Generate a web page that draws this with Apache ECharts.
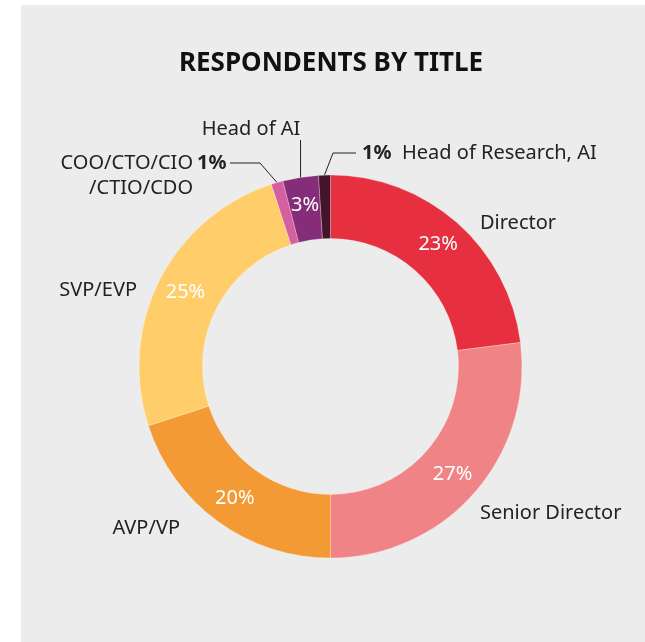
<!DOCTYPE html>
<html>
<head>
<meta charset="utf-8">
<script src="https://cdn.jsdelivr.net/npm/echarts@6/dist/echarts.min.js"></script>
<style>
  html, body { margin: 0; padding: 0; background: #ffffff; }
  #chart { width: 645px; height: 642px; }
</style>
</head>
<body>
<div id="chart"></div>
<script>
// Respondents by title (share of respondents, %)
const categories = ['Director', 'Senior Director', 'AVP/VP', 'SVP/EVP',
  'COO/CTO/CIO\n/CTIO/CDO', 'Head of AI', 'Head of Research, AI'];
const shares = [23, 27, 20, 25, 1, 3, 1];
const sliceColors = ['#E6303F', '#F08385', '#F39A35', '#FFCE6B', '#D460A0', '#862D79', '#44142B'];
const titleText = 'RESPONDENTS BY TITLE';

// slices whose percentage sits outside the ring with a leader line
const outsidePct = [4, 6];

const CX = 330.5, CY = 366.5, R_IN = 128, R_OUT = 191.5;
const FONT = '"Noto Sans", "Open Sans", sans-serif';
const INK = '#222222';

// mid-angle point on the outer rim of slice i
const total = shares.reduce((a, b) => a + b, 0);
function rimPoint(i) {
  let cum = 0;
  for (let k = 0; k < i; k++) cum += shares[k];
  const a = (90 - 360 * (cum + shares[i] / 2) / total) * Math.PI / 180;
  return [CX + R_OUT * Math.cos(a), CY - R_OUT * Math.sin(a)];
}

// placement of the category names around the ring
const namePos = [
  { x: 480, y: 223, align: 'left' },
  { x: 480, y: 513, align: 'left' },
  { x: 180, y: 528, align: 'right' },
  { x: 137, y: 290, align: 'right' },
  { x: 193, y: 175.5, align: 'right' },
  { x: 251, y: 129, align: 'center' },
  { x: 402, y: 153, align: 'left' }
];
// placement of the small percentages that sit outside
const pctPos = {
  4: { x: 197, y: 163, line: [[230, 163], [260, 163]] },
  6: { x: 362, y: 153, line: [[356, 153], [333, 153]] }
};

const pctData = shares.map((v, i) => {
  const outside = outsidePct.includes(i);
  return {
    value: v,
    name: categories[i],
    itemStyle: { color: sliceColors[i] },
    label: outside
      ? { position: 'outside', color: INK, fontWeight: 'bold' }
      : { position: 'inside', color: '#ffffff' },
    labelLine: { show: outside }
  };
});

const nameData = shares.map((v, i) => ({
  value: v,
  name: categories[i],
  labelLine: { show: i === 5 }
}));

const chart = echarts.init(document.getElementById('chart'), null, { renderer: 'canvas' });
chart.setOption({
  backgroundColor: '#ffffff',
  animation: false,
  title: {
    text: titleText,
    left: 174,
    top: 46,
    textStyle: { fontFamily: FONT, fontSize: 26, fontWeight: 'bold', color: '#111111' }
  },
  graphic: [{
    type: 'rect',
    z: -10,
    silent: true,
    shape: { x: 21, y: 5, width: 624, height: 637 },
    style: { fill: '#ECECEC' }
  }],
  series: [
    {
      type: 'pie',
      name: 'share',
      center: [CX, CY],
      radius: [R_IN, R_OUT],
      startAngle: 90,
      clockwise: true,
      avoidLabelOverlap: false,
      silent: true,
      itemStyle: { borderColor: 'rgba(255,255,255,0.45)', borderWidth: 0.6 },
      label: {
        show: true,
        formatter: '{c}%',
        fontFamily: FONT,
        fontSize: 20
      },
      labelLine: { lineStyle: { color: INK, width: 1 } },
      labelLayout: function (p) {
        const pos = pctPos[p.dataIndex];
        if (!pos) return {};
        return {
          x: pos.x, y: pos.y, align: 'left', verticalAlign: 'middle',
          labelLinePoints: [pos.line[0], pos.line[1], rimPoint(p.dataIndex)]
        };
      },
      data: pctData
    },
    {
      type: 'pie',
      name: 'names',
      center: [CX, CY],
      radius: [R_IN, R_OUT],
      startAngle: 90,
      clockwise: true,
      avoidLabelOverlap: false,
      silent: true,
      z: 3,
      itemStyle: { color: 'rgba(0,0,0,0)' },
      label: {
        show: true,
        position: 'outside',
        formatter: '{b}',
        fontFamily: FONT,
        fontSize: 20,
        lineHeight: 25,
        color: INK
      },
      labelLine: { lineStyle: { color: INK, width: 1 } },
      labelLayout: function (p) {
        const pos = namePos[p.dataIndex];
        const out = { x: pos.x, y: pos.y, align: pos.align, verticalAlign: 'middle' };
        if (p.dataIndex === 5) {
          const rim = rimPoint(5);
          out.labelLinePoints = [[rim[0], 140], [rim[0], 158], rim];
        }
        return out;
      },
      data: nameData
    }
  ]
});
</script>
</body>
</html>
